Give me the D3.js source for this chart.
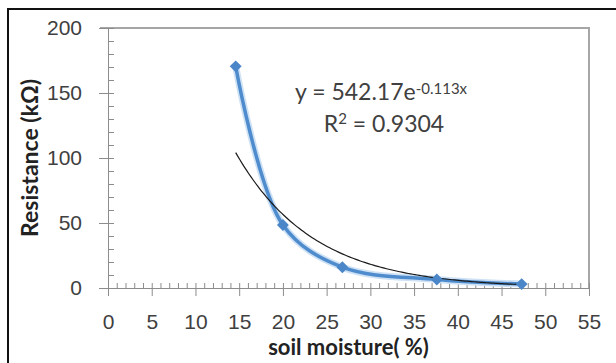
<!DOCTYPE html>
<html>
<head>
<meta charset="utf-8">
<script src="https://cdn.jsdelivr.net/npm/d3@7"></script>
<style>
  body { margin: 0; background: #fff; }
  svg { display: block; font-family: "Lato", "Open Sans", sans-serif; }
</style>
</head>
<body>
<svg id="chart" width="616" height="363"></svg>
<script>
// measured points
const moisture = [14.6, 20.0, 26.8, 37.6, 47.3];
const resistance = [170.5, 48.5, 16, 6.5, 3];

// exponential trendline as printed on the chart
const trendA = 542.17;
const trendB = -0.113;
const trendR2 = 0.9304;

const xTicks = [0, 5, 10, 15, 20, 25, 30, 35, 40, 45, 50, 55];
const yTicks = [0, 50, 100, 150, 200];

const svg = d3.select("#chart");

const plotL = 108, plotR = 589, plotT = 28, plotB = 288;

const x = d3.scaleLinear().domain([0, 55]).range([plotL, plotR]);
const y = d3.scaleLinear().domain([0, 200]).range([plotB, plotT]);

// outer frame
svg.append("rect")
    .attr("x", 8).attr("y", 9)
    .attr("width", 640).attr("height", 400)
    .attr("fill", "none")
    .attr("stroke", "#111")
    .attr("stroke-width", 2);

// plot area border (top + right)
svg.append("path")
    .attr("d", `M${plotL - 8},${plotT}H${plotR}V${plotB}`)
    .attr("fill", "none")
    .attr("stroke", "#a6a6a6")
    .attr("stroke-width", 2);

// y axis
const yAxis = svg.append("g")
    .attr("transform", `translate(${plotL},0)`)
    .call(d3.axisLeft(y).tickValues(yTicks).tickSize(9).tickPadding(17));
yAxis.selectAll(".tick line").attr("x1", -9).attr("x2", 6);
svg.append("g")
    .attr("transform", `translate(${plotL},0)`)
    .call(d3.axisRight(y).tickValues(d3.range(10, 200, 10).filter(d => d % 50)).tickSize(6).tickFormat(""))
    .select(".domain").remove();

// x axis
const xAxis = svg.append("g")
    .attr("transform", `translate(0,${plotB})`)
    .call(d3.axisBottom(x).tickValues(xTicks).tickSize(8).tickPadding(18));
xAxis.selectAll(".tick line").attr("y1", -5).attr("y2", 8);
svg.append("g")
    .attr("transform", `translate(0,${plotB})`)
    .call(d3.axisTop(x).tickValues(d3.range(1, 55, 1).filter(d => d % 5)).tickSize(5).tickFormat(""))
    .select(".domain").remove();

svg.selectAll(".domain, .tick line").attr("stroke", "#8c8c8c");
svg.selectAll(".tick text")
    .attr("fill", "#404040")
    .style("font-size", "21px");

// axis titles
svg.append("text")
    .attr("transform", `translate(38,${158}) rotate(-90)`)
    .attr("text-anchor", "middle")
    .attr("font-weight", "bold")
    .attr("font-size", 23)
    .attr("fill", "#222")
    .text("Resistance (kΩ)");

svg.append("text")
    .attr("x", x(27.5))
    .attr("y", 355)
    .attr("text-anchor", "middle")
    .attr("font-weight", "bold")
    .attr("font-size", 22)
    .attr("fill", "#222")
    .text("soil moisture( %)");

// data line
const pts = moisture.map((m, i) => [m, resistance[i]]);

const line = d3.line()
    .x(d => x(d[0]))
    .y(d => y(d[1]))
    .curve(d3.curveCatmullRom.alpha(0.5));

svg.append("path")
    .datum(pts)
    .attr("d", line)
    .attr("fill", "none")
    .attr("stroke", "#cfe2f5")
    .attr("stroke-width", 7)
    .attr("stroke-linecap", "round");

svg.append("path")
    .datum(pts)
    .attr("d", line)
    .attr("fill", "none")
    .attr("stroke", "#4f8ccd")
    .attr("stroke-width", 3.5);

// trendline from the printed equation
const x0 = d3.min(moisture), x1 = d3.max(moisture);
const trend = d3.range(x0, x1 + 0.01, 0.25).map(m => [m, trendA * Math.exp(trendB * m)]);

svg.append("path")
    .datum(trend)
    .attr("d", d3.line().x(d => x(d[0])).y(d => y(d[1])))
    .attr("fill", "none")
    .attr("stroke", "#1a1a1a")
    .attr("stroke-width", 1.2);

// diamond markers
svg.selectAll(".pt")
    .data(pts)
    .enter().append("path")
    .attr("class", "pt")
    .attr("d", d3.symbol(d3.symbolDiamond2, 90))
    .attr("transform", d => `translate(${x(d[0])},${y(d[1])})`)
    .attr("fill", "#4a86c8");

// equation label
const eq = svg.append("text")
    .attr("x", 295)
    .attr("y", 100)
    .attr("font-size", 23)
    .attr("fill", "#404040");
eq.append("tspan").text("y = " + trendA + "e");
eq.append("tspan").attr("dy", -6).attr("font-size", 15).text(trendB + "x");

const r2 = svg.append("text")
    .attr("x", 384)
    .attr("y", 132)
    .attr("text-anchor", "middle")
    .attr("font-size", 23)
    .attr("fill", "#404040");
r2.append("tspan").text("R");
r2.append("tspan").attr("dy", -8).attr("font-size", 15).text("2");
r2.append("tspan").attr("dy", 8).text(" = " + trendR2);
</script>
</body>
</html>
